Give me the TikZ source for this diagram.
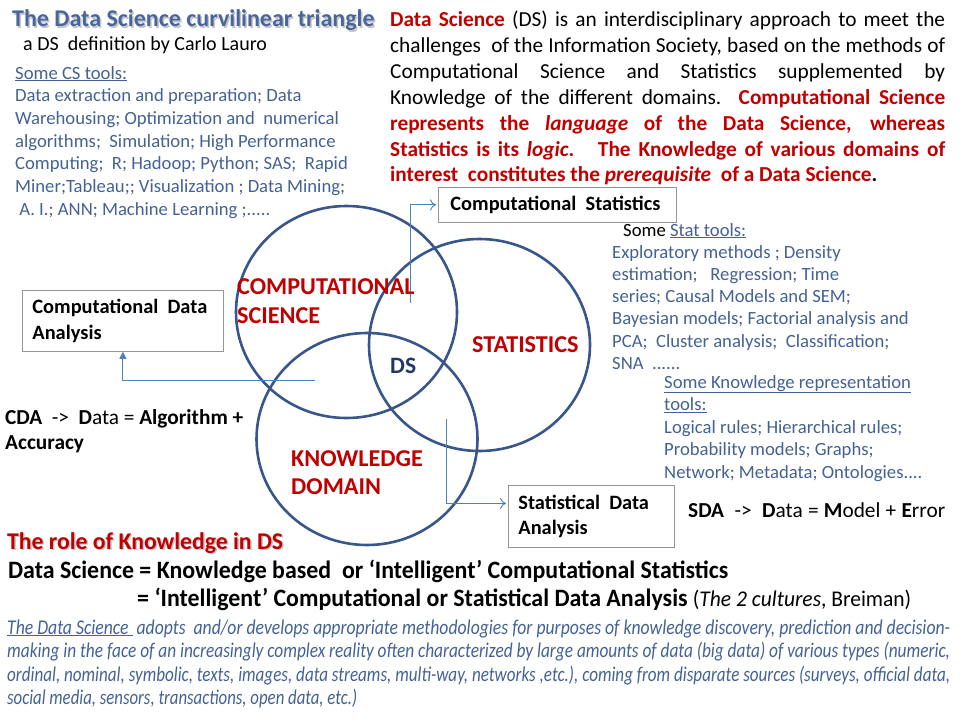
\documentclass[tikz,border=0pt]{standalone}
\usepackage{fontspec}
\setmainfont{Carlito}
\usepackage{graphicx}
\usetikzlibrary{shapes.geometric,arrows.meta}
\definecolor{circblue}{RGB}{56,86,138}
\definecolor{txtblue}{RGB}{68,98,148}
\definecolor{ttlblue}{RGB}{72,102,156}
\definecolor{dsblue}{RGB}{31,56,100}
\definecolor{dred}{RGB}{192,0,0}
\definecolor{arrblue}{RGB}{79,129,189}
\definecolor{boxgray}{RGB}{150,150,150}
\newcommand{\fs}[2]{\fontsize{#1}{#2}\selectfont}
\newcommand{\ns}{\spaceskip=0pt\xspaceskip=0pt\relax}
\newcommand{\jl}[2]{{\ns\makebox[#1][s]{#2}}}
\newcommand{\sx}[2]{\resizebox{#1}{\height}{#2}}
\begin{document}
\begin{tikzpicture}[x=1pt,y=-1pt,
  txt/.style={inner sep=0pt, anchor=base west, align=left},
  ring/.style={ellipse, draw=circblue, line width=2.6pt, inner sep=0pt, minimum width=221pt, minimum height=212pt},
  infobox/.style={draw=boxgray, line width=0.8pt, fill=white, inner xsep=10pt, inner ysep=0pt, align=left, anchor=north west, font=\fs{20.4}{25.5}\bfseries},
  link/.style={draw=arrblue, line width=0.9pt},
  opentip/.style={-{To[length=6pt,width=11pt]}, shorten >=2pt},
  circlabel/.style={txt, text width=200pt, text=dred, font=\fs{24.2}{28.5}\bfseries},
]
\useasboundingbox (0,0) rectangle (960,720);
\fill[white] (0,0) rectangle (960,720);

% circles
\node[ring] (cs) at (346.5,312) {};
\node[ring] (st) at (479.5,345) {};
\node[ring] (kd) at (367,439) {};

% boxes
\node[infobox, text width=214pt, minimum width=238pt, minimum height=35pt, inner xsep=12pt] (compstat) at (438,187) {\ns Computational\ \ Statistics};
\node[infobox, text width=181pt, minimum width=201pt, minimum height=61pt] (cdabox) at (22,290) {\ns Computational\ \ Data\\Analysis};
\node[infobox, text width=146pt, minimum width=166pt, minimum height=62pt] (sdabox) at (508,485) {\ns Statistical\ \ Data\\Analysis};

% connectors
\coordinate (csfoot) at (410.7,303);
\coordinate (cdafoot) at (315,380);
\coordinate (sdafoot) at (446.7,419);
\draw[link, opentip] (csfoot) |- (compstat.west);
\draw[link, -{Triangle[length=7pt,width=7pt]}] (cdafoot) -| (cdabox.south);
\draw[link, opentip] (sdafoot) |- ([yshift=13pt]sdabox.west);

% circle labels
\node[circlabel] (lcs) at (237,294.5) {COMPUTATIONAL\\SCIENCE};
\node[circlabel] (lst) at (472,352) {STATISTICS};
\node[circlabel] (lkd) at (291,466) {KNOWLEDGE\\DOMAIN};
\node[txt, text=dsblue, font=\fs{23.5}{28}\bfseries] (lds) at (390,373) {DS};

% title
\node[txt, text=gray!45, font=\fs{24}{28}\bfseries] (titleshadow) at (13.5,28.5) {\ns The Data Science curvilinear triangle};
\node[txt, text=ttlblue, font=\fs{24}{28}\bfseries] (title) at (12,27) {\ns The Data Science curvilinear triangle};
\node[txt, font=\fs{20}{22}] (subtitle) at (23,50) {\ns a DS\ \ definition by Carlo Lauro};

% CS tools
\node[txt, text width=380pt, text=txtblue, font=\fs{18.67}{22.7}] (cstools) at (15,79) {\ns\underline{Some CS tools:}\\
Data extraction and preparation; Data\\
Warehousing; Optimization and\ \ numerical\\
algorithms;\ \ Simulation; High Performance\\
Computing;\ \ R; Hadoop; Python; SAS;\ \ Rapid\\
Miner;Tableau;; Visualization ; Data Mining;\\
\ A. I.; ANN; Machine Learning ;.....};

% definition paragraph
\node[txt, text width=560pt, font=\fs{21.33}{25.8}] (defn) at (390,27) {\ns%
\jl{555pt}{{\color{dred}\bfseries Data Science} (DS) is an interdisciplinary approach to meet the}\\
\jl{555pt}{challenges\ \ of the Information Society, based on the methods of}\\
\jl{555pt}{Computational Science and Statistics supplemented by}\\
\jl{555pt}{Knowledge of the different domains.\ \ {\color{dred}\bfseries Computational Science}}\\
\jl{555pt}{\color{dred}\bfseries represents the \textit{language} of the Data Science, whereas}\\
\jl{555pt}{\color{dred}\bfseries Statistics is its \textit{logic}.\ \ \ The Knowledge of various domains of}\\
{\color{dred}\bfseries interest\ \ constitutes the \textit{prerequisite}\ \ of a Data Science}\textbf{.}};

% Stat tools
\node[txt, text width=345pt, text=txtblue, font=\fs{18.67}{22.2}] (stattools) at (612,236) {\ns\hspace*{11pt}{\color{black}Some} \underline{Stat tools:}\\
Exploratory methods ; Density\\
estimation;\ \ \ Regression; Time\\
series; Causal Models and SEM;\\
Bayesian models; Factorial analysis and\\
PCA;\ \ Cluster analysis;\ \ Classification;\\
SNA\ \ ......};

% Knowledge tools
\node[txt, text width=290pt, text=txtblue, font=\fs{18.67}{22.5}] (kntools) at (664,388) {\ns\underline{Some Knowledge representation}\\
\underline{tools:}\\
Logical rules; Hierarchical rules;\\
Probability models; Graphs;\\
Network; Metadata; Ontologies....};

% formulas
\node[txt, text width=260pt, font=\fs{21.33}{25}] (cdaform) at (5,424) {\ns\jl{238pt}{\textbf{CDA}\ \ ->\ \ \textbf{D}ata = \textbf{Algorithm +}}\\\textbf{Accuracy}};
\node[txt, font=\fs{21.33}{25}] (sdaform) at (688,517) {\jl{257pt}{\textbf{SDA}\ \ ->\ \ \textbf{D}ata = \textbf{M}odel + \textbf{E}rror}};

% bottom
\node[txt, text=gray!45, font=\fs{24}{26}\bfseries] (roleshadow) at (8.5,550.5) {\sx{276pt}{\ns The role of Knowledge in DS}};
\node[txt, text=dred, font=\fs{24}{26}\bfseries] (role) at (7,549) {\sx{276pt}{\ns The role of Knowledge in DS}};
\node[txt, font=\fs{25}{28}\bfseries] (eq1) at (8,578) {\sx{720pt}{\ns Data Science = Knowledge based\ \ or ‘Intelligent’ Computational Statistics}};
\node[txt, font=\fs{25}{28}\bfseries] (eq2) at (137,606) {\sx{774pt}{\ns = ‘Intelligent’ Computational or Statistical Data Analysis {\mdseries\fs{22.5}{28}(\textit{The 2 cultures}, Breiman)}}};

\node[txt, text width=945pt, text=txtblue, font=\fs{21}{23.5}\itshape] (ipara) at (7,634) {%
\sx{943pt}{\ns\underline{The Data Science\ }\ adopts\ \ and/or develops appropriate methodologies for purposes of knowledge discovery, prediction and decision-}\\
\sx{943pt}{\ns making in the face of an increasingly complex reality often characterized by large amounts of data (big data) of various types (numeric,}\\
\sx{943pt}{\ns ordinal, nominal, symbolic, texts, images, data streams, multi-way, networks ,etc.), coming from disparate sources (surveys, official data,}\\
\sx{350pt}{\ns social media, sensors, transactions, open data, etc.)}};
\end{tikzpicture}
\end{document}
